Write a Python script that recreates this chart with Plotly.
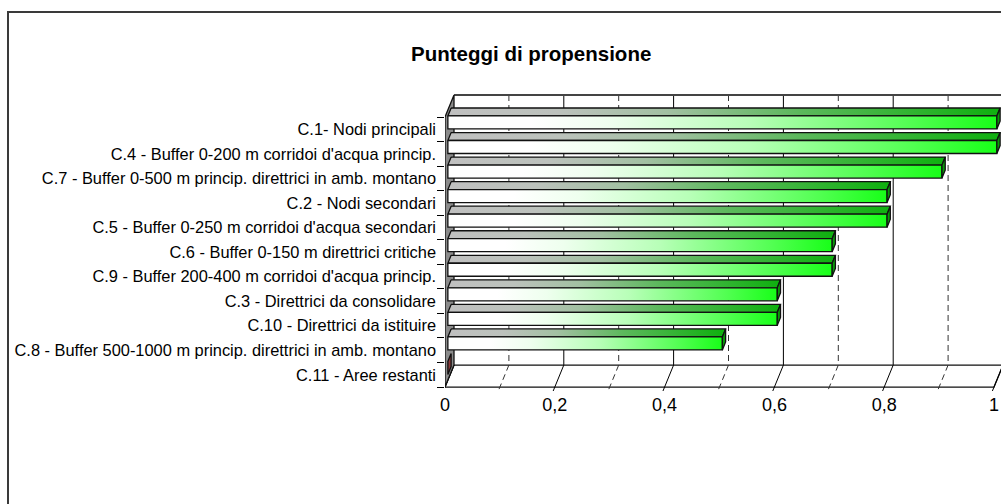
import plotly.graph_objects as go

# ---- data ----
categories = [
    "C.1- Nodi principali",
    "C.4 - Buffer 0-200 m corridoi d'acqua princip.",
    "C.7 - Buffer 0-500 m princip. direttrici in amb. montano",
    "C.2 - Nodi secondari",
    "C.5 - Buffer 0-250 m corridoi d'acqua secondari",
    "C.6 - Buffer 0-150 m direttrici critiche",
    "C.9 - Buffer 200-400 m corridoi d'acqua princip.",
    "C.3 - Direttrici da consolidare",
    "C.10 - Direttrici da istituire",
    "C.8 - Buffer 500-1000 m princip. direttrici in amb. montano",
    "C.11 - Aree restanti",
]
scores = [1.0, 1.0, 0.9, 0.8, 0.8, 0.7, 0.7, 0.6, 0.6, 0.5, 0.0]
x_tick_values = [0, 0.2, 0.4, 0.6, 0.8, 1.0]
x_tick_text = ["0", "0,2", "0,4", "0,6", "0,8", "1"]
grid_major = [0.2, 0.4, 0.6, 0.8, 1.0]
grid_minor = [0.1, 0.3, 0.5, 0.7, 0.9]

# ---- page / pseudo-3D geometry (pixels) ----
W, H = 1001, 504
PLOT_L, PLOT_R, PLOT_T, PLOT_B = 445, 1001, 94, 392
X0_PX, UNIT_PX = 454, 549      # back wall: score 0 position, px per score unit
Y0_PX, ROW_PX = 95, 24.55      # back wall: top edge, px per category row
DEPTH_DX_PX, DEPTH_DY_PX = -9, 22  # shift from back wall to front plane

DX = DEPTH_DX_PX / UNIT_PX
DY = DEPTH_DY_PX / ROW_PX
N = len(categories)

BAR_T0, BAR_T1 = 0.32, 0.68    # bar depth span (0 = back, 1 = front)
BAR_C0, BAR_C1 = 0.243, 0.773  # bar thickness inside its row
TICK_T = 1.18                  # floor tick marks run a little past the front edge

FONT = "Liberation Sans, Arial, sans-serif"

# each bar is shaded from its base to its own end
FRONT_SCALE = [[0, "#ffffff"], [0.15, "#ffffff"], [0.3, "#eeffee"],
               [0.55, "#b8ffb8"], [0.85, "#50ff50"], [1, "#18ff18"]]
TOP_SCALE = [[0, "#c0c0c0"], [0.2, "#bcc2bc"], [0.4, "#a2c0a2"],
             [0.64, "#5cb85c"], [1, "#10b010"]]
END_COLOR = "#0a9a0a"
ZERO_END_COLOR = "#8b3a3a"


def pt(v, c, t):
    """Map (score, row, depth) to oblique data coordinates."""
    return v + DX * t, c + DY * t


def polys(list_of_corners):
    xs, ys = [], []
    for corners in list_of_corners:
        for v, c, t in list(corners) + [corners[0]]:
            x, y = pt(v, c, t)
            xs.append(x)
            ys.append(y)
        xs.append(None)
        ys.append(None)
    return xs, ys


def segments(pairs):
    xs, ys = [], []
    for a, b in pairs:
        for p in (a, b):
            x, y = pt(*p)
            xs.append(x)
            ys.append(y)
        xs.append(None)
        ys.append(None)
    return xs, ys


fig = go.Figure()


def add_lines(xs, ys, color, width, dash="solid"):
    fig.add_trace(go.Scatter(x=xs, y=ys, mode="lines", hoverinfo="skip",
                             line=dict(color=color, width=width, dash=dash)))


def add_poly(xs, ys, fill, line_color="#111111", width=1.3, gradient=None):
    kw = dict(fillcolor=fill)
    if gradient is not None:
        kw = dict(fillgradient=gradient)
    fig.add_trace(go.Scatter(x=xs, y=ys, mode="lines", fill="toself",
                             hoverinfo="skip",
                             line=dict(color=line_color, width=width), **kw))


# back wall gridlines
add_lines(*segments([((v, 0, 0), (v, N, 0)) for v in grid_major]), "#000000", 1)
add_lines(*segments([((v, 0, 0), (v, N, 0)) for v in grid_minor]), "#333333", 1, "6px,4px")

# floor
add_poly(*polys([[(0, N, 0), (1, N, 0), (1, N, 1), (0, N, 1)]]), "#ffffff")
add_lines(*segments([((v, N, 0), (v, N, TICK_T)) for v in [0] + grid_major]), "#000000", 1)
add_lines(*segments([((v, N, 0), (v, N, TICK_T)) for v in grid_minor]), "#333333", 1, "6px,4px")

# back wall top edge
add_lines(*segments([((0, 0, 0), (1.05, 0, 0))]), "#444444", 2)

# left side wall
add_poly(*polys([[(0, 0, 0), (0, N, 0), (0, N, 1), (0, 0, 1)]]), "#8a8a8a")

# bars: top, front and end faces
for k, v in enumerate(scores):
    c0, c1 = k + BAR_C0, k + BAR_C1
    front = [(0, c0, BAR_T1), (v, c0, BAR_T1), (v, c1, BAR_T1), (0, c1, BAR_T1)]
    top = [(0, c0, BAR_T0), (v, c0, BAR_T0), (v, c0, BAR_T1), (0, c0, BAR_T1)]
    end = [(v, c0, BAR_T0), (v, c1, BAR_T0), (v, c1, BAR_T1), (v, c0, BAR_T1)]
    if v > 0:
        x_lo = pt(0, c0, BAR_T1)[0]
        x_hi = pt(v, c0, BAR_T1)[0]
        add_poly(*polys([top]), None, gradient=dict(
            type="horizontal", start=x_lo, stop=x_hi, colorscale=TOP_SCALE))
        add_poly(*polys([front]), None, gradient=dict(
            type="horizontal", start=x_lo, stop=x_hi, colorscale=FRONT_SCALE))
        add_poly(*polys([end]), END_COLOR)
    else:
        add_poly(*polys([end]), ZERO_END_COLOR)

# axis ranges so that data coordinates land on the pixel geometry above
x_range = [(PLOT_L - X0_PX) / UNIT_PX, (PLOT_R - X0_PX) / UNIT_PX]
y_range = [(PLOT_B - Y0_PX) / ROW_PX, (PLOT_T - Y0_PX) / ROW_PX]

pw, ph = PLOT_R - PLOT_L, PLOT_B - PLOT_T


def paper_x(px):
    return (px - PLOT_L) / pw


def paper_y(py):
    return (PLOT_B - py) / ph


fig.update_layout(
    width=W, height=H,
    margin=dict(l=PLOT_L, r=W - PLOT_R, t=PLOT_T, b=H - PLOT_B, pad=0),
    paper_bgcolor="#ffffff", plot_bgcolor="#ffffff",
    showlegend=False,
    font=dict(family=FONT, color="#000000"),
    xaxis=dict(range=x_range, showgrid=False, zeroline=False, showline=False,
               ticks="", tickmode="array",
               tickvals=[pt(v, N, 1)[0] for v in x_tick_values],
               ticktext=x_tick_text, tickfont=dict(size=18, family=FONT),
               fixedrange=True),
    yaxis=dict(range=y_range, showgrid=False, zeroline=False, showline=False,
               ticks="", tickmode="array",
               tickvals=[pt(0, k + 0.5, 1)[1] for k in range(N)],
               ticktext=categories, tickfont=dict(size=16.4, family=FONT),
               ticklabelstandoff=8,
               minor=dict(ticks="outside", ticklen=7, tickcolor="#000000",
                          tickwidth=1, tickmode="array",
                          tickvals=[pt(0, k, 1)[1] for k in range(N + 1)]),
               fixedrange=True),
    annotations=[dict(text="<b>Punteggi di propensione</b>", xref="paper", yref="paper",
                      x=paper_x(531), y=paper_y(54), xanchor="center", yanchor="middle",
                      showarrow=False, font=dict(size=20.5, family=FONT, color="#000000"))],
    shapes=[dict(type="rect", xref="paper", yref="paper",
                 x0=paper_x(8), y0=paper_y(H + 20), x1=paper_x(W + 20), y1=paper_y(12),
                 line=dict(color="#3a3a3a", width=2), fillcolor="rgba(0,0,0,0)",
                 layer="below")],
)

fig.write_html("out.html")
